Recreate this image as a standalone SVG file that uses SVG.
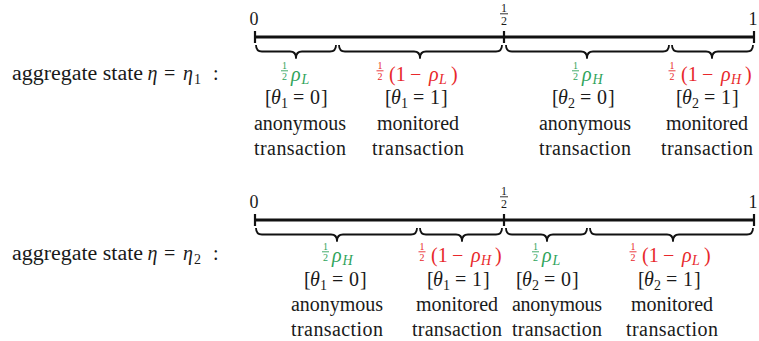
<svg xmlns="http://www.w3.org/2000/svg" width="759" height="341" viewBox="0 0 759 341" font-family="'Liberation Serif', 'Times New Roman', 'DejaVu Serif', serif">
<style>
text{font-family:'Liberation Serif','Times New Roman','DejaVu Serif',serif;fill:#1a1a1a;}
.t{font-size:20px;text-anchor:middle;}
.m{font-size:20px;}
.i{font-style:italic;}
.s{font-size:14px;}
.f{font-size:10px;text-anchor:middle;}
.fa{font-size:12px;text-anchor:middle;}
.g{fill:#2ea35a;}
.r{fill:#e8282b;}
.fb{stroke-width:0.9;}
.fbg{stroke:#2ea35a;}
.fbr{stroke:#e8282b;}
.axis{stroke:#111;stroke-width:2.8;fill:none;}
.tick{stroke:#111;stroke-width:2.2;}
.brace{stroke:#111;stroke-width:1.8;fill:none;stroke-linejoin:round;}
</style>
<rect width="759" height="341" fill="#fff"/>

<!-- state 1 -->
<g id="label1">
<text class="m" x="12" y="80" textLength="131" lengthAdjust="spacingAndGlyphs">aggregate state</text>
<text class="m i" x="147.5" y="80">η</text>
<text class="m" x="164" y="80">=</text>
<text class="m i" x="183" y="80">η</text>
<text class="s" x="194" y="84">1</text>
<text class="m" x="213" y="80">:</text>
</g>

<g id="axis1">
<line class="axis" x1="255" y1="37" x2="754" y2="37"/>
<line class="tick" x1="255" y1="31" x2="255" y2="43"/>
<line class="tick" x1="504" y1="31" x2="504" y2="43"/>
<line class="tick" x1="754" y1="31" x2="754" y2="43"/>
<text x="254" y="25" text-anchor="middle" style="font-size:18px">0</text>
<text class="fa" x="504" y="11.5">1</text><line x1="500" y1="13.8" x2="508" y2="13.8" stroke="#1a1a1a" stroke-width="0.9"/><text class="fa" x="504" y="25">2</text>
<text x="753" y="25" text-anchor="middle" style="font-size:18px">1</text>
</g>

<g id="braces1">
<path class="brace" d="M256 45 Q256 51.5 262 51.5 L290 51.5 Q296 51.5 296 58 Q296 51.5 302 51.5 L330 51.5 Q336 51.5 336 45"/>
<path class="brace" d="M339 45 Q339 51.5 345 51.5 L414 51.5 Q420 51.5 420 58 Q420 51.5 426 51.5 L496 51.5 Q502 51.5 502 45"/>
<path class="brace" d="M506 45 Q506 51.5 512 51.5 L581 51.5 Q587 51.5 587 58 Q587 51.5 593 51.5 L663 51.5 Q669 51.5 669 45"/>
<path class="brace" d="M672 45 Q672 51.5 678 51.5 L706 51.5 Q712 51.5 712 58 Q712 51.5 718 51.5 L747 51.5 Q753 51.5 753 45"/>
</g>

<g id="seg1a">
<text class="f g" x="284.5" y="68.8">1</text><line class="fb fbg" x1="281" y1="70.8" x2="288" y2="70.8"/><text class="f g" x="284.5" y="80">2</text>
<text class="m g i" x="291" y="81">ρ</text><text class="s g i" x="301.5" y="84">L</text>
<text class="m" x="265" y="104">[</text><text class="m i" x="271" y="104">θ</text><text class="s" x="281" y="108">1</text><text class="m" x="293" y="104">=</text><text class="m" x="310" y="104">0</text><text class="m" x="321" y="104">]</text>
<text class="t" x="300" y="130" textLength="92">anonymous</text>
<text class="t" x="300" y="155" textLength="92">transaction</text>
</g>

<g id="seg1b">
<text class="f r" x="380" y="68.8">1</text><line class="fb fbr" x1="376.5" y1="70.8" x2="383.5" y2="70.8"/><text class="f r" x="380" y="80">2</text>
<text class="m r" x="389" y="81">(1</text><text class="m r" x="410" y="81">−</text><text class="m r i" x="429" y="81">ρ</text><text class="s r i" x="439" y="84">L</text><text class="m r" x="451" y="81">)</text>
<text class="m" x="385" y="104">[</text><text class="m i" x="391" y="104">θ</text><text class="s" x="401" y="108">1</text><text class="m" x="413" y="104">=</text><text class="m" x="430" y="104">1</text><text class="m" x="441" y="104">]</text>
<text class="t" x="418" y="130">monitored</text>
<text class="t" x="418" y="155" textLength="92">transaction</text>
</g>

<g id="seg1c">
<text class="f g" x="575.5" y="68.8">1</text><line class="fb fbg" x1="572" y1="70.8" x2="579" y2="70.8"/><text class="f g" x="575.5" y="80">2</text>
<text class="m g i" x="582" y="81">ρ</text><text class="s g i" x="592.5" y="84">H</text>
<text class="m" x="552" y="104">[</text><text class="m i" x="558" y="104">θ</text><text class="s" x="568" y="108">2</text><text class="m" x="580" y="104">=</text><text class="m" x="597" y="104">0</text><text class="m" x="608" y="104">]</text>
<text class="t" x="585" y="130" textLength="92">anonymous</text>
<text class="t" x="585" y="155" textLength="92">transaction</text>
</g>

<g id="seg1d">
<text class="f r" x="672" y="68.8">1</text><line class="fb fbr" x1="668.5" y1="70.8" x2="675.5" y2="70.8"/><text class="f r" x="672" y="80">2</text>
<text class="m r" x="681" y="81">(1</text><text class="m r" x="702" y="81">−</text><text class="m r i" x="721" y="81">ρ</text><text class="s r i" x="731" y="84">H</text><text class="m r" x="745" y="81">)</text>
<text class="m" x="676" y="104">[</text><text class="m i" x="682" y="104">θ</text><text class="s" x="692" y="108">2</text><text class="m" x="704" y="104">=</text><text class="m" x="721" y="104">1</text><text class="m" x="732" y="104">]</text>
<text class="t" x="707" y="130">monitored</text>
<text class="t" x="707" y="155" textLength="92">transaction</text>
</g>

<!-- state 2 -->
<g id="label2">
<text class="m" x="12" y="260" textLength="131" lengthAdjust="spacingAndGlyphs">aggregate state</text>
<text class="m i" x="147.5" y="260">η</text>
<text class="m" x="164" y="260">=</text>
<text class="m i" x="183" y="260">η</text>
<text class="s" x="194" y="264">2</text>
<text class="m" x="213" y="260">:</text>
</g>

<g id="axis2">
<line class="axis" x1="255" y1="220" x2="754" y2="220"/>
<line class="tick" x1="255" y1="214" x2="255" y2="226"/>
<line class="tick" x1="504" y1="214" x2="504" y2="226"/>
<line class="tick" x1="754" y1="214" x2="754" y2="226"/>
<text x="254" y="208" text-anchor="middle" style="font-size:18px">0</text>
<text class="fa" x="504" y="194.5">1</text><line x1="500" y1="196.8" x2="508" y2="196.8" stroke="#1a1a1a" stroke-width="0.9"/><text class="fa" x="504" y="208">2</text>
<text x="753" y="208" text-anchor="middle" style="font-size:18px">1</text>
</g>

<g id="braces2">
<path class="brace" d="M256 228 Q256 234.5 262 234.5 L331 234.5 Q337 234.5 337 241 Q337 234.5 343 234.5 L411 234.5 Q417 234.5 417 228"/>
<path class="brace" d="M420 228 Q420 234.5 426 234.5 L456 234.5 Q462 234.5 462 241 Q462 234.5 468 234.5 L496 234.5 Q502 234.5 502 228"/>
<path class="brace" d="M506 228 Q506 234.5 512 234.5 L541 234.5 Q547 234.5 547 241 Q547 234.5 553 234.5 L581 234.5 Q587 234.5 587 228"/>
<path class="brace" d="M590 228 Q590 234.5 596 234.5 L667 234.5 Q673 234.5 673 241 Q673 234.5 679 234.5 L747 234.5 Q753 234.5 753 228"/>
</g>

<g id="seg2a">
<text class="f g" x="325.5" y="249.8">1</text><line class="fb fbg" x1="322" y1="251.8" x2="329" y2="251.8"/><text class="f g" x="325.5" y="261">2</text>
<text class="m g i" x="332" y="262">ρ</text><text class="s g i" x="342.5" y="265">H</text>
<text class="m" x="304" y="286">[</text><text class="m i" x="310" y="286">θ</text><text class="s" x="320" y="290">1</text><text class="m" x="332" y="286">=</text><text class="m" x="349" y="286">0</text><text class="m" x="360" y="286">]</text>
<text class="t" x="337" y="311" textLength="92">anonymous</text>
<text class="t" x="337" y="336" textLength="92">transaction</text>
</g>

<g id="seg2b">
<text class="f r" x="422" y="249.8">1</text><line class="fb fbr" x1="418.5" y1="251.8" x2="425.5" y2="251.8"/><text class="f r" x="422" y="261">2</text>
<text class="m r" x="431" y="262">(1</text><text class="m r" x="452" y="262">−</text><text class="m r i" x="471" y="262">ρ</text><text class="s r i" x="481" y="265">H</text><text class="m r" x="495" y="262">)</text>
<text class="m" x="427" y="286">[</text><text class="m i" x="433" y="286">θ</text><text class="s" x="443" y="290">1</text><text class="m" x="455" y="286">=</text><text class="m" x="472" y="286">1</text><text class="m" x="483" y="286">]</text>
<text class="t" x="457" y="311">monitored</text>
<text class="t" x="457" y="336" textLength="90">transaction</text>
</g>

<g id="seg2c">
<text class="f g" x="535.5" y="249.8">1</text><line class="fb fbg" x1="532" y1="251.8" x2="539" y2="251.8"/><text class="f g" x="535.5" y="261">2</text>
<text class="m g i" x="542" y="262">ρ</text><text class="s g i" x="552.5" y="265">L</text>
<text class="m" x="516" y="286">[</text><text class="m i" x="522" y="286">θ</text><text class="s" x="532" y="290">2</text><text class="m" x="544" y="286">=</text><text class="m" x="561" y="286">0</text><text class="m" x="572" y="286">]</text>
<text class="t" x="557" y="311" textLength="90">anonymous</text>
<text class="t" x="557" y="336" textLength="90">transaction</text>
</g>

<g id="seg2d">
<text class="f r" x="633" y="249.8">1</text><line class="fb fbr" x1="629.5" y1="251.8" x2="636.5" y2="251.8"/><text class="f r" x="633" y="261">2</text>
<text class="m r" x="642" y="262">(1</text><text class="m r" x="663" y="262">−</text><text class="m r i" x="682" y="262">ρ</text><text class="s r i" x="692" y="265">L</text><text class="m r" x="704" y="262">)</text>
<text class="m" x="638" y="286">[</text><text class="m i" x="644" y="286">θ</text><text class="s" x="654" y="290">2</text><text class="m" x="666" y="286">=</text><text class="m" x="683" y="286">1</text><text class="m" x="694" y="286">]</text>
<text class="t" x="672" y="311">monitored</text>
<text class="t" x="672" y="336" textLength="92">transaction</text>
</g>
</svg>
